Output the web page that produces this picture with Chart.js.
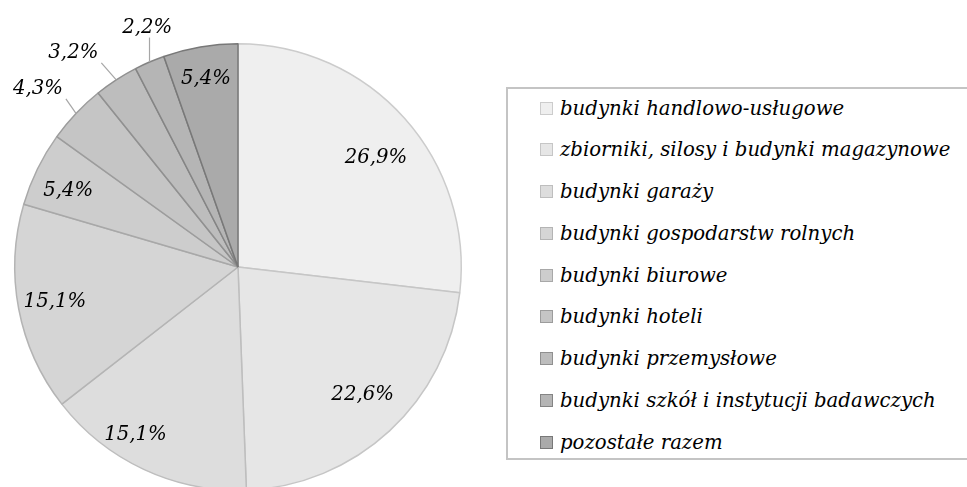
<!DOCTYPE html>
<html>
<head>
<meta charset="utf-8">
<script src="https://cdn.jsdelivr.net/npm/chart.js@4.4.1/dist/chart.umd.min.js"></script>
<style>
  html, body { margin: 0; padding: 0; background: #fff; width: 967px; height: 487px; overflow: hidden; position: relative; }
  #pie { position: absolute; left: 0; top: 0; }
  #legend {
    position: absolute; left: 506px; top: 87px; width: 480px; height: 373px;
    border: 2px solid #c4c4c4; box-sizing: border-box;
  }
  .item {
    position: absolute; left: 32px; height: 24px; display: flex; align-items: center;
    font: italic 19.7px "DejaVu Serif"; color: #000; white-space: nowrap;
  }
  .swatch { width: 11px; height: 11px; border: 1px solid; margin-right: 7px; flex: none; }
</style>
</head>
<body>
<canvas id="pie" width="500" height="520"></canvas>
<div id="legend"></div>
<script>
const categories = [
  'budynki handlowo-usługowe',
  'zbiorniki, silosy i budynki magazynowe',
  'budynki garaży',
  'budynki gospodarstw rolnych',
  'budynki biurowe',
  'budynki hoteli',
  'budynki przemysłowe',
  'budynki szkół i instytucji badawczych',
  'pozostałe razem'
];
const shares = [26.9, 22.6, 15.1, 15.1, 5.4, 4.3, 3.2, 2.2, 5.4];

const fills   = ['#efefef', '#e6e6e6', '#dddddd', '#d5d5d5', '#cdcdcd', '#c5c5c5', '#bdbdbd', '#b5b5b5', '#aaaaaa'];
const borders = ['#cccccc', '#c6c6c6', '#bebebe', '#b4b4b4', '#a8a8a8', '#9c9c9c', '#909090', '#848484', '#787878'];
// label placement tweaks: angle offset (deg) and distance as a fraction of the radius
const labelNudge  = [3.4, -1.5, 6.5, 0, -1.9, -1.8, -4.5, 2.6, 0];
const labelRadius = [0.787, 0.8, 0.88, 0.835, 0.833, 1.2, 1.21, 1.147, 0.853];

const fmtPct = v => v.toFixed(1).replace('.', ',') + '%';

const sliceLabels = {
  id: 'sliceLabels',
  afterDatasetsDraw(chart) {
    const ctx = chart.ctx;
    const arcs = chart.getDatasetMeta(0).data;
    ctx.save();
    ctx.font = 'italic 19.7px "DejaVu Serif"';
    ctx.fillStyle = '#000';
    ctx.textAlign = 'center';
    ctx.textBaseline = 'middle';
    arcs.forEach((arc, i) => {
      const { x, y, startAngle, endAngle, outerRadius } =
        arc.getProps(['x', 'y', 'startAngle', 'endAngle', 'outerRadius'], true);
      const mid = (startAngle + endAngle) / 2;
      const text = fmtPct(shares[i]);
      const a = mid + labelNudge[i] * Math.PI / 180;
      const lx = x + Math.cos(a) * outerRadius * labelRadius[i];
      const ly = y + Math.sin(a) * outerRadius * labelRadius[i];
      if (labelRadius[i] > 1) {
        // leader line from the slice edge to the nearest point of the label
        const ex = x + Math.cos(mid) * outerRadius;
        const ey = y + Math.sin(mid) * outerRadius;
        const w = ctx.measureText(text).width / 2 + 3, h = 10;
        const px = Math.max(lx - w, Math.min(ex, lx + w));
        const py = Math.max(ly - h, Math.min(ey, ly + h));
        ctx.strokeStyle = '#a6a6a6';
        ctx.lineWidth = 1.2;
        ctx.beginPath();
        ctx.moveTo(ex, ey);
        ctx.lineTo(px, py);
        ctx.stroke();
      }
      ctx.fillText(text, lx, ly);
    });
    ctx.restore();
  }
};

new Chart(document.getElementById('pie'), {
  type: 'pie',
  data: {
    labels: categories,
    datasets: [{
      data: shares,
      backgroundColor: fills,
      borderColor: borders,
      borderWidth: 1.5,
    }],
  },
  options: {
    responsive: false,
    animation: false,
    layout: { padding: { left: 14, top: 43, right: 38, bottom: 29 } },
    plugins: { legend: { display: false }, tooltip: { enabled: false } },
  },
  plugins: [sliceLabels],
});

// Legend
const legendEl = document.getElementById('legend');
legendEl.innerHTML = categories.map((c, i) => `
  <div class="item" style="top:${7 + i * 41.75}px">
    <span class="swatch" style="background:${fills[i]};border-color:${borders[i]}"></span>${c}
  </div>`).join('');
</script>
</body>
</html>
